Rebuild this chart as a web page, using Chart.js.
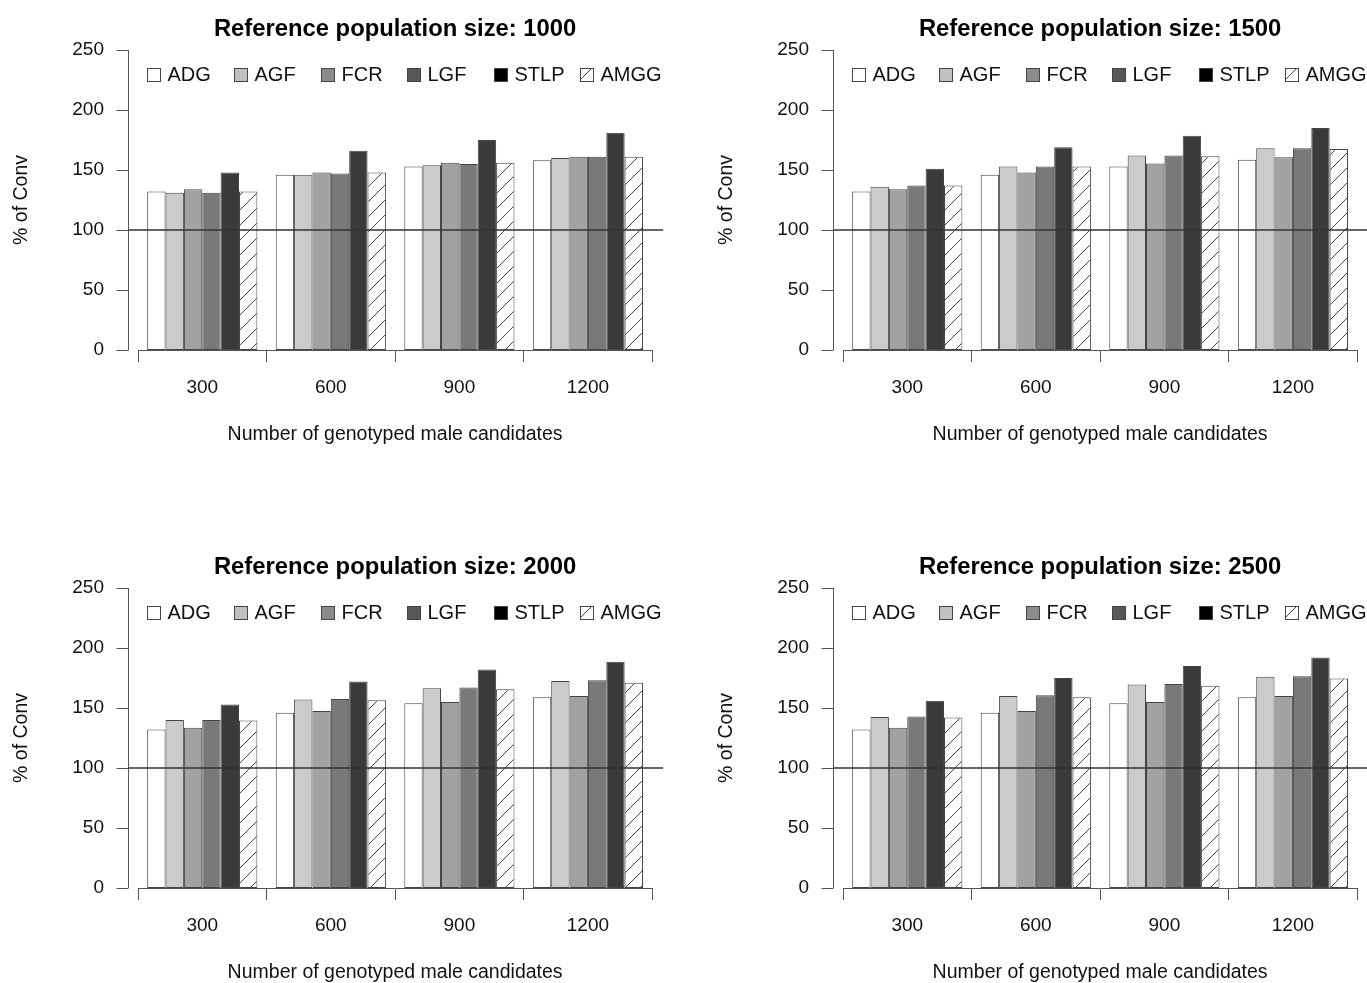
<!DOCTYPE html>
<html><head><meta charset="utf-8">
<script src="https://cdn.jsdelivr.net/npm/chart.js@4/dist/chart.umd.min.js"></script>
<style>
html,body{margin:0;padding:0;background:#fff;overflow:hidden;width:1367px;height:983px;position:relative;}
canvas{position:absolute;}
</style></head><body>
<canvas id="c0" width="683" height="538" style="left:0px;top:0px"></canvas>
<canvas id="c1" width="683" height="538" style="left:705px;top:0px"></canvas>
<canvas id="c2" width="683" height="538" style="left:0px;top:538px"></canvas>
<canvas id="c3" width="683" height="538" style="left:705px;top:538px"></canvas>
<script>
// ---- data ----
const categories = ['300', '600', '900', '1200'];
const seriesNames = ['ADG', 'AGF', 'FCR', 'LGF', 'STLP', 'AMGG'];
const panelSizes = [1000, 1500, 2000, 2500];
const yTicks = [0, 50, 100, 150, 200, 250];
const refLine = 100;
// rows follow seriesNames; columns follow categories
const values1000 = [
  [132, 146, 153, 158],
  [131, 146, 154, 160],
  [134, 148, 156, 161],
  [131, 147, 155, 161],
  [148, 166, 175, 181],
  [132, 148, 156, 161]
];
const values1500 = [
  [132, 146, 153, 158.5],
  [136, 153, 162, 168],
  [134, 148, 155.5, 160.5],
  [137, 153, 162, 168],
  [151, 169, 178.5, 185],
  [137, 153, 161.5, 167.5]
];
const values2000 = [
  [132, 146, 154, 159],
  [140, 157, 166.5, 172.5],
  [133.5, 147.5, 155, 160],
  [140, 157.5, 167, 173],
  [153, 172, 182, 188.5],
  [139.5, 156.5, 165.5, 171]
];
const values2500 = [
  [132, 146, 154, 159],
  [142.5, 160, 169.5, 176],
  [133.5, 147.5, 155, 160],
  [143, 160.5, 170, 176.5],
  [156, 175, 185, 192],
  [142, 159, 168.5, 174.5]
];
const panelValues = [values1000, values1500, values2000, values2500];

// ---- styles ----
const FONT = "'Liberation Sans', Arial, Helvetica, sans-serif";
function hatch() {
  const s = 15, c = document.createElement('canvas');
  c.width = s; c.height = s;
  const g = c.getContext('2d');
  g.fillStyle = '#fff'; g.fillRect(0, 0, s, s);
  g.strokeStyle = '#444'; g.lineWidth = 1;
  g.beginPath();
  g.moveTo(-1, s + 1); g.lineTo(s + 1, -1);
  g.moveTo(-2, 2); g.lineTo(2, -2);
  g.moveTo(s - 2, s + 2); g.lineTo(s + 2, s - 2);
  g.stroke();
  return g.createPattern(c, 'repeat');
}
const hatchPattern = hatch();
const barFills = ['#ffffff', '#cbcbcb', '#a2a2a2', '#797979', '#3a3a3a', hatchPattern];
const legendFills = ['#ffffff', '#c0c0c0', '#8c8c8c', '#575757', '#000000', hatchPattern];

const rStyle = {
  id: 'rStyle',
  afterDatasetsDraw(chart) {
    const {ctx, chartArea: a, scales: {y}} = chart;
    const ax = Math.round(a.left - 10) + 0.5;
    ctx.save();
    ctx.strokeStyle = '#555'; ctx.lineWidth = 1;
    ctx.beginPath();
    ctx.moveTo(ax, y.getPixelForValue(yTicks[0]));
    ctx.lineTo(ax, y.getPixelForValue(yTicks[yTicks.length - 1]));
    y.ticks.forEach(t => {
      const py = Math.round(y.getPixelForValue(t.value)) + 0.5;
      ctx.moveTo(ax, py); ctx.lineTo(ax - 12, py);
    });
    ctx.stroke();
    // reference line
    const py = y.getPixelForValue(refLine);
    ctx.strokeStyle = '#333'; ctx.lineWidth = 1.6;
    ctx.beginPath(); ctx.moveTo(ax, py); ctx.lineTo(a.right + 11, py); ctx.stroke();
    // legend
    const ly = a.top + 25, step = 86.6, bs = 13;
    ctx.font = '20px ' + FONT;
    ctx.textBaseline = 'middle'; ctx.textAlign = 'left';
    chart.data.datasets.forEach((ds, i) => {
      const bx = Math.round(a.left + 9.3 + step * i) + 0.5;
      const by = Math.round(ly - bs / 2) + 0.5;
      ctx.fillStyle = legendFills[i];
      ctx.fillRect(bx, by, bs, bs);
      ctx.strokeStyle = '#444'; ctx.lineWidth = 1;
      ctx.strokeRect(bx, by, bs, bs);
      ctx.fillStyle = '#111';
      ctx.fillText(ds.label, bx + bs + 7, ly + 1);
    });
    ctx.restore();
  }
};

panelSizes.forEach((size, p) => {
  const vals = panelValues[p];
  new Chart(document.getElementById('c' + p), {
    type: 'bar',
    data: {
      labels: categories,
      datasets: seriesNames.map((name, i) => ({
        label: name,
        data: vals[i],
        backgroundColor: barFills[i],
        borderColor: '#444',
        borderWidth: 1,
        borderSkipped: false,
        categoryPercentage: 6 / 7,
        barPercentage: 1
      }))
    },
    options: {
      responsive: false,
      animation: false,
      layout: {padding: {left: 0, right: 30.8, top: 0, bottom: 0}},
      plugins: {
        legend: {display: false},
        tooltip: {enabled: false},
        title: {
          display: true,
          fullSize: false,
          align: 'center',
          text: 'Reference population size: ' + size,
          color: '#000',
          font: {family: FONT, size: 23.8, weight: 'bold'},
          padding: {top: 15, bottom: 6.4}
        }
      },
      scales: {
        x: {
          type: 'category',
          offset: true,
          grid: {display: true, offset: true, drawOnChartArea: false, drawTicks: true, tickLength: 12, color: '#555', lineWidth: 1},
          border: {display: true, color: '#555', width: 1},
          ticks: {font: {family: FONT, size: 19}, color: '#111', padding: 14, maxRotation: 0, autoSkip: false},
          title: {display: true, text: 'Number of genotyped male candidates', color: '#111',
                  font: {family: FONT, size: 19.5}, padding: {top: 0, bottom: 92}},
          afterFit(s) { s.height = 188; }
        },
        y: {
          min: 0, max: 250,
          afterBuildTicks(s) { s.ticks = yTicks.map(v => ({value: v})); },
          grid: {display: false, drawTicks: false},
          border: {display: false},
          ticks: {font: {family: FONT, size: 19}, color: '#111', padding: 34},
          title: {display: true, text: '% of Conv', color: '#111',
                  font: {family: FONT, size: 19.5}, padding: {top: 10, bottom: 0}},
          afterFit(s) { s.width = 138; }
        }
      }
    },
    plugins: [rStyle]
  });
});
</script>
</body></html>
